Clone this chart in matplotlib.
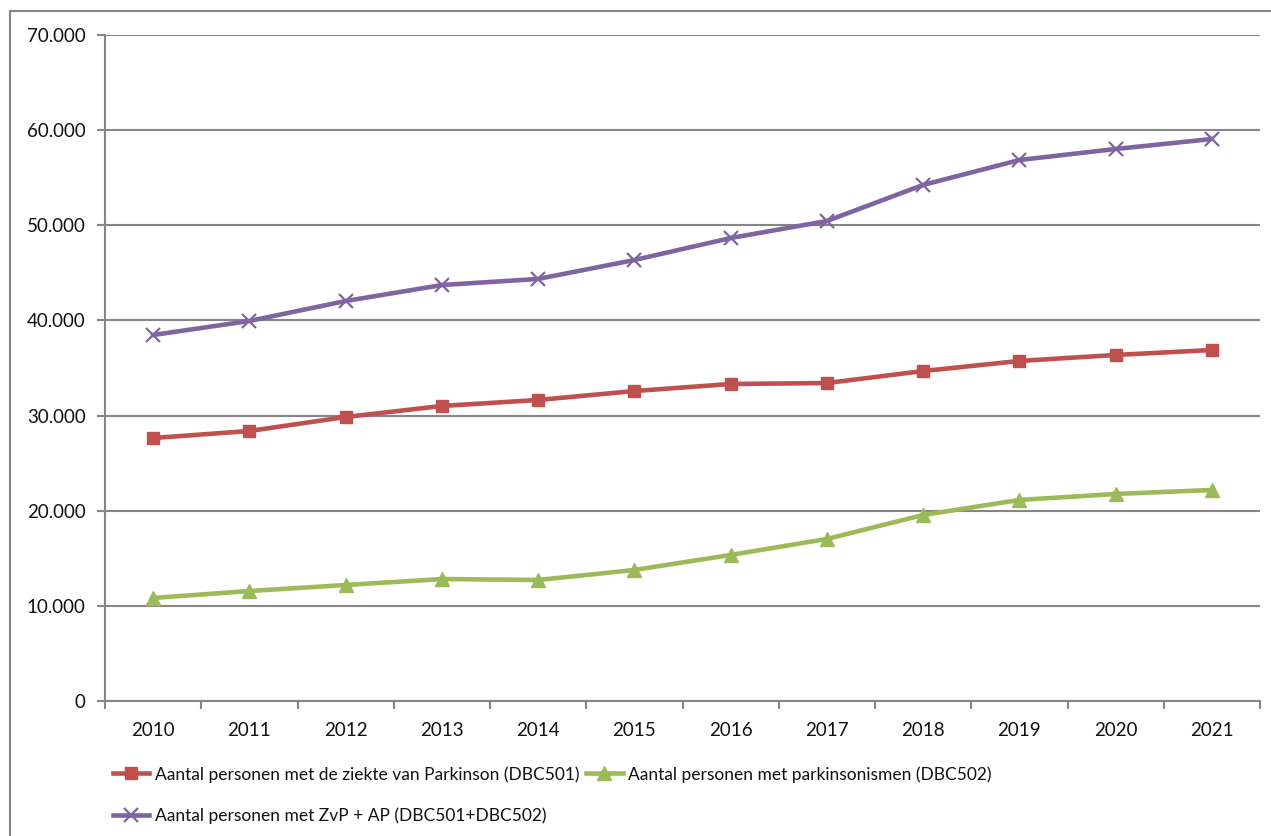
import numpy as np
import matplotlib
matplotlib.use("Agg")
import matplotlib.pyplot as plt
from matplotlib.ticker import FuncFormatter, FixedLocator
from matplotlib.lines import Line2D

plt.rcParams['font.family'] = ['Lato', 'DejaVu Sans']

years = ['2010', '2011', '2012', '2013', '2014', '2015', '2016', '2017', '2018', '2019', '2020', '2021']
zvp = [27640, 28380, 29850, 31010, 31640, 32580, 33320, 33420, 34680, 35740, 36370, 36890]
ap = [10830, 11560, 12190, 12820, 12720, 13770, 15350, 17030, 19550, 21130, 21760, 22180]
total = [38470, 39940, 42040, 43720, 44360, 46350, 48660, 50450, 54240, 56860, 58020, 59070]
labels = ['Aantal personen met de ziekte van Parkinson (DBC501)',
          'Aantal personen met parkinsonismen (DBC502)',
          'Aantal personen met ZvP + AP (DBC501+DBC502)']

W, H = 1271, 836
fig = plt.figure(figsize=(W / 100, H / 100), dpi=100)
ax = fig.add_axes([105 / W, 1 - 701 / H, (1260 - 105) / W, (701 - 35) / H])

grey = '#868686'
txt = '#111111'
x = np.arange(len(years))
l1, = ax.plot(x, zvp, color='#C0504D', lw=3.3, marker='s', ms=8, label=labels[0], zorder=3)
l2, = ax.plot(x, ap, color='#9BBB59', lw=3.3, marker='^', ms=10, label=labels[1], zorder=3)
l3, = ax.plot(x, total, color='#8064A2', lw=3.3, marker='x', ms=10, mew=1.6, label=labels[2], zorder=3)

ax.set_xlim(-0.5, len(years) - 0.5)
ax.set_ylim(0, 70000)
ax.set_yticks(np.arange(0, 70001, 10000))
ax.yaxis.set_major_formatter(FuncFormatter(lambda v, p: f"{v:,.0f}".replace(",", ".")))
ax.set_xticks(x)
ax.set_xticklabels(years)
ax.xaxis.set_minor_locator(FixedLocator(np.arange(-0.5, len(years), 1.0)))
ax.tick_params(axis='x', which='major', length=0, pad=15, labelsize=13.5, labelcolor=txt)
ax.tick_params(axis='x', which='minor', length=6, width=1.5, color=grey)
ax.tick_params(axis='y', which='major', length=6, width=1.5, color=grey, pad=8, labelsize=13.5, labelcolor=txt)

ax.yaxis.grid(True, color=grey, lw=1.5)
ax.set_axisbelow(True)
for s in ['top', 'right']:
    ax.spines[s].set_visible(False)
for s in ['left', 'bottom']:
    ax.spines[s].set_color(grey)
    ax.spines[s].set_linewidth(1.5)

# outer chart border
fig.add_artist(Line2D([10 / W, 10 / W], [0, 1 - 11 / H], transform=fig.transFigure, color=grey, lw=1.5))
fig.add_artist(Line2D([10 / W, 1], [1 - 11 / H, 1 - 11 / H], transform=fig.transFigure, color=grey, lw=1.5))

fig.legend(handles=[l1, l3, l2], labels=[labels[0], labels[2], labels[1]], ncol=2,
           loc='upper left', bbox_to_anchor=(113 / W, 1 - 766 / H), frameon=False,
           fontsize=12.5, handlelength=2.1, handletextpad=0.3, columnspacing=0.4,
           labelspacing=1.45, borderaxespad=0, borderpad=0, labelcolor=txt)

fig.savefig('out.png', dpi=100, facecolor='white')
